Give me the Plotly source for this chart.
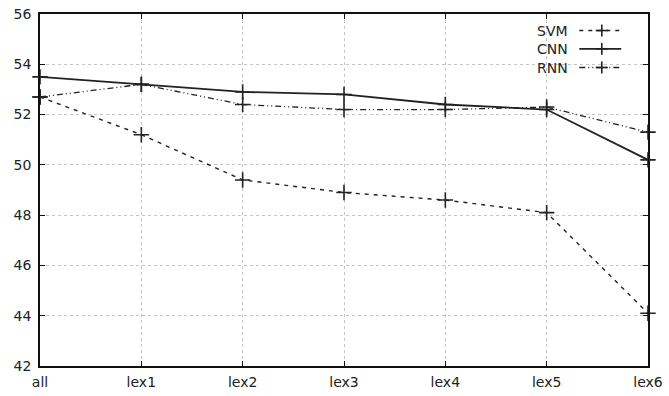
import plotly.graph_objects as go

categories = ["all", "lex1", "lex2", "lex3", "lex4", "lex5", "lex6"]
svm = [52.7, 51.2, 49.4, 48.9, 48.6, 48.1, 44.1]
cnn = [53.5, 53.2, 52.9, 52.8, 52.4, 52.2, 50.2]
rnn = [52.7, 53.2, 52.4, 52.2, 52.2, 52.3, 51.3]
y_ticks = [42, 44, 46, 48, 50, 52, 54, 56]

xs = list(range(len(categories)))
series = [
    ("SVM", svm, "4px,5px", 1.4),
    ("CNN", cnn, "solid", 1.8),
    ("RNN", rnn, "6px,3px,1px,3px,1px,3px", 1.3),
]

fig = go.Figure()
for name, vals, dash, w in series:
    fig.add_trace(go.Scatter(
        x=xs, y=vals, name=name, mode="lines+markers",
        line=dict(color="#222", width=w, dash=dash),
        marker=dict(symbol="cross-thin", size=11, line=dict(color="#222", width=1.6)),
        cliponaxis=False, showlegend=False,
    ))

# custom gnuplot-style legend (text right, sample on the right)
leg_y = [0.953, 0.901, 0.848]
for (name, vals, dash, w), yy in zip(series, leg_y):
    fig.add_annotation(x=0.872, y=yy, xref="paper", yref="paper", text=name,
                       showarrow=False, xanchor="right", yanchor="middle",
                       font=dict(size=14, color="#222"))
    fig.add_shape(type="line", xref="paper", yref="paper", x0=0.887, x1=0.956,
                  y0=yy, y1=yy, line=dict(color="#222", width=w, dash=dash))
    fig.add_shape(type="line", xref="paper", yref="paper", x0=0.924, x1=0.924,
                  y0=yy - 0.017, y1=yy + 0.017, line=dict(color="#222", width=1.6))
    fig.add_shape(type="line", xref="paper", yref="paper", x0=0.914, x1=0.934,
                  y0=yy, y1=yy, line=dict(color="#222", width=1.6))

axis_common = dict(
    showline=True, linecolor="#111", linewidth=1.5, mirror="allticks",
    ticks="inside", ticklen=5, tickcolor="#111", tickwidth=1,
    showgrid=True, gridcolor="#c4c4c4", griddash="dot", gridwidth=1,
    zeroline=False, tickfont=dict(size=14, color="#222"),
    ticklabeloverflow="allow",
)
fig.update_xaxes(range=[0, 6], tickvals=xs, ticktext=categories,
                 ticklabelstandoff=2, **axis_common)
fig.update_yaxes(range=[42, 56], tickvals=y_ticks, ticklabelstandoff=4, **axis_common)

fig.update_layout(
    width=669, height=396,
    margin=dict(l=40, r=12, t=6, b=27),
    plot_bgcolor="white", paper_bgcolor="white",
    font=dict(family="DejaVu Sans", size=14, color="#222"),
)
fig.write_html("out.html")
